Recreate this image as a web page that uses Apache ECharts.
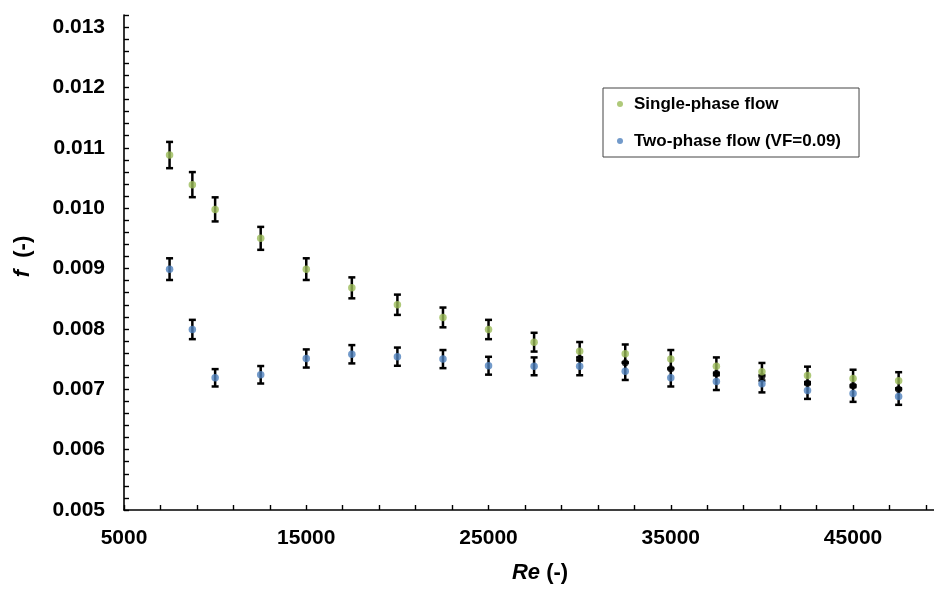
<!doctype html>
<html lang="en">
<head>
    <meta charset="utf-8">
    <title>friction factor</title>
    <script src="https://cdn.jsdelivr.net/npm/echarts@6/dist/echarts.min.js"></script>
    <style>
        *{margin:0;padding:0}
        html,body{width:100%;height:100%;background:#fff}
        #main{width:934px;height:589px}
    </style>
</head>
<body>
<div id="main"></div>
<script type="text/javascript">
    // Reynolds numbers (x)
    var reValues = [7500, 8750, 10000, 12500, 15000, 17500, 20000, 22500, 25000,
        27500, 30000, 32500, 35000, 37500, 40000, 42500, 45000, 47500];
    // friction factor, single-phase
    var singlePhase = [0.01088, 0.01039, 0.00998, 0.00950, 0.00899, 0.00868, 0.00840, 0.00819, 0.00799,
        0.00778, 0.00763, 0.00759, 0.00750, 0.00738, 0.00729, 0.00723, 0.00718, 0.00714];
    // friction factor, two-phase VF=0.09
    var twoPhase = [0.00899, 0.00799, 0.00719, 0.00724, 0.00751, 0.00758, 0.00754, 0.00750, 0.00739,
        0.00738, 0.00738, 0.00730, 0.00719, 0.00713, 0.00709, 0.00698, 0.00693, 0.00688];
    // black markers visible between the two series at high Re
    var midRe = [30000, 32500, 35000, 37500, 40000, 42500, 45000, 47500];
    var midValues = [0.00751, 0.00744, 0.00734, 0.00726, 0.00721, 0.00710, 0.00706, 0.00700];
    var errPct = 0.02; // percentage error bars

    var green = '#9BBB59';
    var blue = '#4F81BD';
    var font = '"Liberation Sans", Arial, sans-serif';

    function pairs(xs, ys) {
        return xs.map(function (x, i) { return [x, ys[i]]; });
    }
    function errData(xs, ys) {
        return xs.map(function (x, i) { return [x, ys[i] * (1 - errPct), ys[i] * (1 + errPct)]; });
    }

    function renderErr(params, api) {
        var x = api.value(0);
        var top = api.coord([x, api.value(2)]);
        var bot = api.coord([x, api.value(1)]);
        var w = 3.5;
        var s = {stroke: '#000', lineWidth: 2.5};
        return {
            type: 'group',
            children: [
                {type: 'line', shape: {x1: top[0], y1: top[1], x2: bot[0], y2: bot[1]}, style: s},
                {type: 'line', shape: {x1: top[0] - w, y1: top[1], x2: top[0] + w, y2: top[1]}, style: s},
                {type: 'line', shape: {x1: bot[0] - w, y1: bot[1], x2: bot[0] + w, y2: bot[1]}, style: s}
            ]
        };
    }

    var myChart = echarts.init(document.getElementById('main'));

    var axisCommon = {
        axisLine: {show: true, lineStyle: {color: '#000', width: 1.6}},
        axisTick: {show: true, inside: true, length: 5, lineStyle: {color: '#000', width: 1.4}},
        splitLine: {show: false},
        minorTick: {show: false}
    };

    var option = {
        animation: false,
        grid: {left: 124, right: 0, top: 15, bottom: 78},
        legend: {
            data: ['Single-phase flow', 'Two-phase flow (VF=0.09)'],
            orient: 'vertical',
            left: 603,
            top: 88,
            padding: [6, 18, 6, 14],
            itemGap: 17,
            itemWidth: 6,
            itemHeight: 6,
            icon: 'circle',
            borderColor: '#444',
            borderWidth: 1,
            textStyle: {
                fontFamily: font,
                fontWeight: 'bold',
                fontSize: 17,
                color: '#000',
                lineHeight: 20,
                padding: [0, 0, 0, 6]
            }
        },
        xAxis: Object.assign({
            type: 'value',
            min: 5000,
            max: 49440,
            interval: 2000,
            name: '{i|Re} (-)',
            nameLocation: 'middle',
            nameGap: 52,
            nameTextStyle: {
                fontFamily: font, fontWeight: 'bold', fontSize: 22, color: '#000',
                padding: [0, 0, 0, 22],
                rich: {i: {fontFamily: font, fontWeight: 'bold', fontStyle: 'italic', fontSize: 22, color: '#000'}}
            },
            axisLabel: {
                margin: 18,
                fontFamily: font, fontWeight: 'bold', fontSize: 21, color: '#000',
                showMaxLabel: false,
                formatter: function (v) {
                    return ((v - 5000) % 10000 === 0) ? String(v) : '';
                }
            }
        }, axisCommon),
        yAxis: Object.assign({
            type: 'value',
            min: 0.005,
            max: 0.0132,
            interval: 0.0002,
            name: '{i|f}  (-)',
            nameLocation: 'middle',
            nameGap: 90,
            nameTextStyle: {
                fontFamily: font, fontWeight: 'bold', fontSize: 22, color: '#000',
                padding: [0, 0, 0, 12],
                rich: {i: {fontFamily: font, fontWeight: 'bold', fontStyle: 'italic', fontSize: 22, color: '#000'}}
            },
            axisLabel: {
                margin: 19,
                fontFamily: font, fontWeight: 'bold', fontSize: 21, color: '#000',
                formatter: function (v) {
                    var k = v * 1000;
                    return Math.abs(k - Math.round(k)) < 1e-6 ? v.toFixed(3) : '';
                }
            }
        }, axisCommon),
        series: [
            {
                name: 'errSingle', type: 'custom', renderItem: renderErr,
                encode: {x: 0, y: [1, 2]}, data: errData(reValues, singlePhase), z: 2, silent: true
            },
            {
                name: 'errTwo', type: 'custom', renderItem: renderErr,
                encode: {x: 0, y: [1, 2]}, data: errData(reValues, twoPhase), z: 2, silent: true
            },
            {
                name: 'mid', type: 'scatter', symbolSize: 7, z: 3,
                itemStyle: {color: '#000'}, data: pairs(midRe, midValues)
            },
            {
                name: 'Single-phase flow', type: 'scatter', symbolSize: 7.5, z: 4,
                itemStyle: {color: green}, data: pairs(reValues, singlePhase)
            },
            {
                name: 'Two-phase flow (VF=0.09)', type: 'scatter', symbolSize: 7.5, z: 4,
                itemStyle: {color: blue}, data: pairs(reValues, twoPhase)
            }
        ]
    };
    myChart.setOption(option);
</script>
</body>
</html>
